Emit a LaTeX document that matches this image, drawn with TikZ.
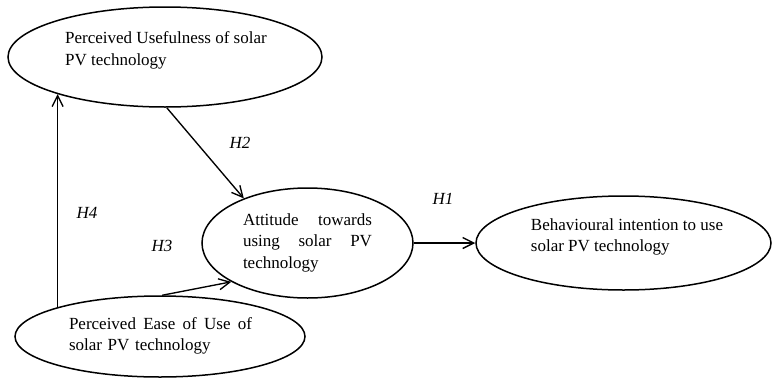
\documentclass[tikz,border=0pt]{standalone}
\usepackage{fontspec}
\setmainfont{Liberation Serif}
\usetikzlibrary{
  arrows.meta,
  shapes.geometric,
  positioning
}

\begin{document}
\begin{tikzpicture}[
      x=1pt,y=-1pt,
      construct/.style={
         ellipse,
         draw=black,
         line width=1.5pt,
         inner sep=0pt
      },
      caption/.style={
         align=left,
         inner sep=0pt,
         font=\fontsize{17}{21.5}\selectfont
      },
      hyp/.style={
         inner sep=0pt,
         font=\fontsize{17}{20}\selectfont\itshape
      },
      >={Straight Barb[length=11pt,width=11pt]},line width=1.35pt,
      tip/.style={->}
    ]
  \useasboundingbox (0,0) rectangle (772,378);
  % constructs
  \node (pu)   [construct, minimum width=314pt, minimum height=100pt] at (165,57) {};
  \node (att)  [construct, minimum width=211pt, minimum height=110pt] at (307.5,243) {};
  \node (bi)   [construct, minimum width=295pt, minimum height=94pt]  at (623.5,243) {};
  \node (peou) [construct, minimum width=290pt, minimum height=81pt]  at (160,336.5) {};
  % texts
  \node (pu-txt)   [caption] at (166,50.5) {Perceived Usefulness of solar\\PV technology};
  \node (att-txt)  [caption, text width=129pt] at (307.5,242.7) {Attitude\hfill towards\\using\hfill solar\hfill PV\\technology};
  \node (bi-txt)   [caption] at (627,237) {Behavioural intention to use\\solar PV technology};
  \node (peou-txt) [caption, text width=183pt] at (160.5,335.6) {Perceived\hfill Ease\hfill of\hfill Use\hfill of\\solar PV technology};
  % hypotheses
  \draw[tip] (att.east) -- (bi.west);
  \draw[tip] (pu.272) -- (att.145);
  \draw[tip] (peou.87) -- (att.207);
  \draw[tip] (peou.164) -- (peou.164 |- pu.199);
  \node (h1) [hyp] at (443,199) {H1};
  \node (h2) [hyp] at (240,143) {H2};
  \node (h3) [hyp] at (162,246) {H3};
  \node (h4) [hyp] at (87,213) {H4};
\end{tikzpicture}
\end{document}
